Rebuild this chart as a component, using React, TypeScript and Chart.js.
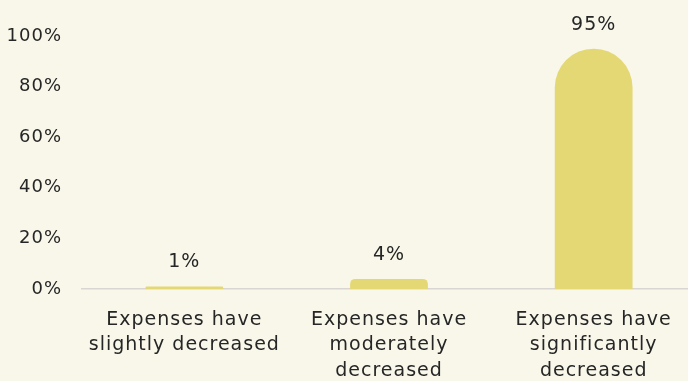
import React, { useEffect, useRef } from "react";
import { Chart, registerables } from "chart.js";

Chart.register(...registerables);

const categories: string[][] = [
  ["Expenses have", "slightly decreased"],
  ["Expenses have", "moderately", "decreased"],
  ["Expenses have", "significantly", "decreased"],
];
const values: number[] = [1, 4, 95];
const yTicks: number[] = [0, 20, 40, 60, 80, 100];

const BG = "#f9f7ea";
const BAR = "#e4d874";
const TEXT = "#262626";
const FONT = "'DejaVu Sans', sans-serif";

export default function App() {
  const ref = useRef<HTMLCanvasElement | null>(null);

  useEffect(() => {
    document.body.style.margin = "0";
    document.body.style.overflow = "hidden";
    document.body.style.background = BG;
    const canvas = ref.current;
    if (!canvas) return;

    const spacingPlugin = {
      id: "spacing",
      beforeDraw(chart: any) {
        chart.ctx.letterSpacing = "1px";
      },
    };

    const labelPlugin = {
      id: "barLabels",
      afterDatasetsDraw(chart: any) {
        const ctx = chart.ctx;
        const meta = chart.getDatasetMeta(0);
        ctx.save();
        ctx.fillStyle = TEXT;
        ctx.font = `19px ${FONT}`;
        ctx.textAlign = "center";
        ctx.textBaseline = "middle";
        meta.data.forEach((el: any, i: number) => {
          ctx.fillText(values[i] + "%", el.x, el.y - 24);
        });
        ctx.restore();
      },
    };

    const chart = new Chart(canvas, {
      type: "bar",
      data: {
        labels: categories,
        datasets: [
          {
            data: values,
            backgroundColor: BAR,
            borderRadius: 40,
            borderSkipped: "bottom",
            barPercentage: 0.38,
            categoryPercentage: 1,
          },
        ],
      },
      options: {
        animation: false,
        responsive: false,
        maintainAspectRatio: false,
        layout: { padding: { top: 36, right: 0, left: 0, bottom: 0 } },
        plugins: {
          legend: { display: false },
          tooltip: { enabled: false },
        },
        scales: {
          x: {
            grid: { display: false, drawTicks: false },
            border: { display: true, color: "#d8d5d3", width: 1.5 },
            ticks: {
              color: TEXT,
              font: { family: FONT, size: 19, lineHeight: 1.34 },
              padding: 18,
              maxRotation: 0,
              autoSkip: false,
            },
            afterFit: (s: any) => {
              s.height = 92;
            },
          },
          y: {
            min: 0,
            max: 100,
            afterBuildTicks: (s: any) => {
              s.ticks = yTicks.map((v) => ({ value: v }));
            },
            grid: { display: false, drawTicks: false },
            border: { display: false },
            ticks: {
              color: TEXT,
              font: { family: FONT, size: 18 },
              padding: 20,
              callback: (v: any) => v + "%",
            },
            afterFit: (s: any) => {
              s.width = 82;
            },
          },
        },
      },
      plugins: [spacingPlugin, labelPlugin],
    });
    return () => chart.destroy();
  }, []);

  return (
    <div style={{ width: 688, height: 381, background: BG, overflow: "hidden" }}>
      <canvas ref={ref} width={696} height={381} style={{ display: "block" }} />
    </div>
  );
}
